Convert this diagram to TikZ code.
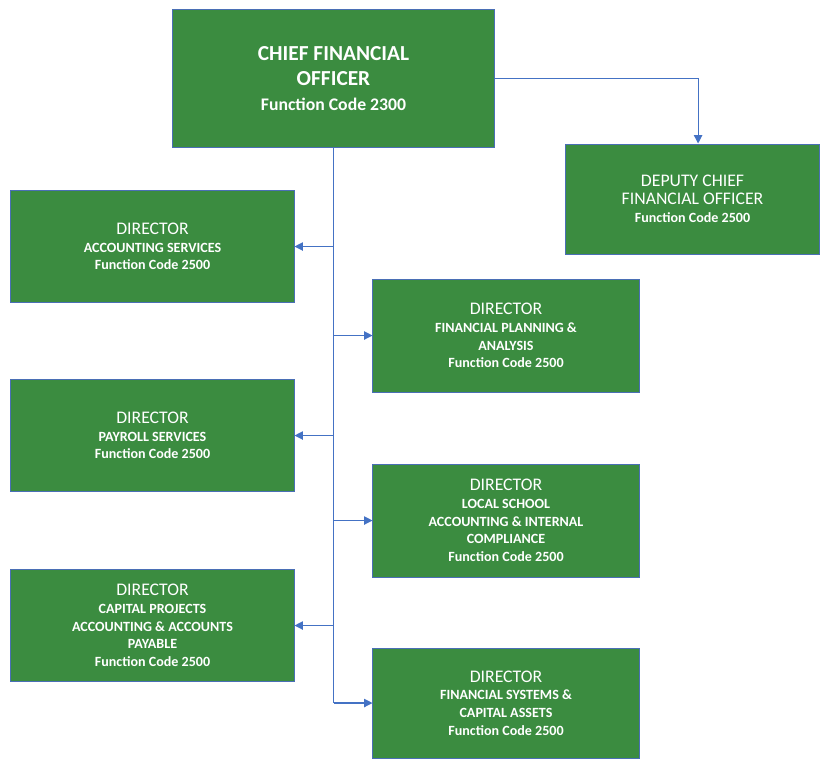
\documentclass[tikz,border=0pt]{standalone}
\usepackage{fontspec}
\setmainfont{Carlito}
\usetikzlibrary{arrows.meta}

\definecolor{boxgreen}{HTML}{3B8C40}
\definecolor{boxedge}{HTML}{4A6FB5}
\definecolor{linkblue}{HTML}{4472C4}

\newcommand{\headline}[1]{{\fontsize{12.6}{14}\selectfont\mdseries #1}}

\begin{document}
\begin{tikzpicture}[
  x=0.025cm,
  y=-0.025cm,
  office/.style={
    rectangle,
    draw=boxedge,
    fill=boxgreen,
    line width=0.7pt,
    text=white,
    align=center,
    inner sep=0pt,
    font=\fontsize{10}{12.6}\selectfont\bfseries
  },
  leftbox/.style={office, minimum width=7.075cm, minimum height=2.8cm},
  rightbox/.style={office, minimum width=6.65cm, minimum height=2.825cm},
  trunk/.style={draw=linkblue, line width=0.8pt},
  link/.style={trunk, -{Triangle[length=6pt, width=6pt]}}
]

\useasboundingbox (0,0) rectangle (820,759);

% Top of the chart
\node[office, minimum width=8.025cm, minimum height=3.425cm,
  font=\fontsize{15.2}{17.5}\selectfont\bfseries] (cfo) at (333.5,78.5)
  {CHIEF FINANCIAL\\OFFICER\\{\fontsize{12.6}{13}\selectfont Function Code 2300}};
\node[office, minimum width=6.325cm, minimum height=2.75cm] (deputy) at (692.5,199)
  {\headline{DEPUTY CHIEF}\\\headline{FINANCIAL OFFICER}\\Function Code 2500};

% Directors on the left side of the trunk
\node[leftbox] (acct) at (152.5,246.5)
  {\headline{DIRECTOR}\\ACCOUNTING SERVICES\\Function Code 2500};
\node[leftbox] (payroll) at (152.5,435.5)
  {\headline{DIRECTOR}\\PAYROLL SERVICES\\Function Code 2500};
\node[leftbox] (capital) at (152.5,625.5)
  {\headline{DIRECTOR}\\CAPITAL PROJECTS\\ACCOUNTING \& ACCOUNTS\\PAYABLE\\Function Code 2500};

% Directors on the right side of the trunk
\node[rightbox] (planning) at (506,335.5)
  {\headline{DIRECTOR}\\FINANCIAL PLANNING \&\\ANALYSIS\\Function Code 2500};
\node[rightbox] (school) at (506,520.5)
  {\headline{DIRECTOR}\\LOCAL SCHOOL\\ACCOUNTING \& INTERNAL\\COMPLIANCE\\Function Code 2500};
\node[rightbox, minimum height=2.75cm] (systems) at (506,703)
  {\headline{DIRECTOR}\\FINANCIAL SYSTEMS \&\\CAPITAL ASSETS\\Function Code 2500};

% Connectors
\draw[link] (cfo.east) -| ([xshift=0.14cm]deputy.north);
\draw[trunk] (cfo.south) -- (cfo.south |- systems.west);
\foreach \unit in {acct, payroll, capital, planning, school, systems}
  \draw[link] (cfo.south |- \unit.center) -- (\unit);

\end{tikzpicture}
\end{document}
